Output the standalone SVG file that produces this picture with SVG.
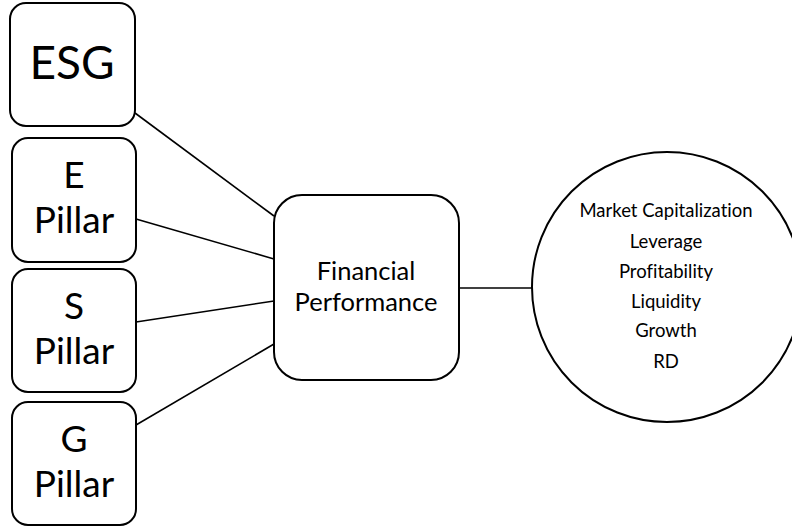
<svg xmlns="http://www.w3.org/2000/svg" width="792" height="527" viewBox="0 0 792 527">
  <style>
    .box { fill: #ffffff; stroke: #000000; stroke-width: 2; }
    .link { stroke: #000000; stroke-width: 1.6; fill: none; }
    text { font-family: Lato, "Open Sans", "Liberation Sans", sans-serif; fill: #000000; text-anchor: middle; font-variant-ligatures: none; }
    .big { font-size: 46px; }
    .pillar { font-size: 37px; }
    .mid { font-size: 25.5px; }
    .small { font-size: 18.5px; }
  </style>
  <rect width="792" height="527" fill="#ffffff"/>

  <g id="connectors">
    <line class="link" x1="135" y1="113" x2="274" y2="216"/>
    <line class="link" x1="136" y1="219" x2="274" y2="259"/>
    <line class="link" x1="136" y1="322" x2="274" y2="301"/>
    <line class="link" x1="136" y1="425" x2="274" y2="344"/>
    <line class="link" x1="459" y1="288" x2="533" y2="288"/>
  </g>

  <g id="esg">
    <rect class="box" x="10" y="3" width="125" height="123" rx="16"/>
    <text class="big" x="72" y="79">ESG</text>
  </g>

  <g id="e-pillar">
    <rect class="box" x="12" y="138" width="124" height="124" rx="16"/>
    <text class="pillar" x="74" y="188">E</text>
    <text class="pillar" x="74" y="233">Pillar</text>
  </g>

  <g id="s-pillar">
    <rect class="box" x="12" y="269" width="124" height="123" rx="16"/>
    <text class="pillar" x="74" y="319">S</text>
    <text class="pillar" x="74" y="364">Pillar</text>
  </g>

  <g id="g-pillar">
    <rect class="box" x="12" y="402" width="124" height="123" rx="16"/>
    <text class="pillar" x="74" y="452">G</text>
    <text class="pillar" x="74" y="497">Pillar</text>
  </g>

  <g id="financial-performance">
    <rect class="box" x="274" y="195" width="185" height="185" rx="28"/>
    <text class="mid" x="366" y="280">Financial</text>
    <text class="mid" x="366" y="311">Performance</text>
  </g>

  <g id="measures">
    <circle class="box" cx="667" cy="287" r="135"/>
    <text class="small" x="666" y="217">Market Capitalization</text>
    <text class="small" x="666" y="248">Leverage</text>
    <text class="small" x="666" y="278">Profitability</text>
    <text class="small" x="666" y="308">Liquidity</text>
    <text class="small" x="666" y="337">Growth</text>
    <text class="small" x="666" y="368">RD</text>
  </g>
</svg>
